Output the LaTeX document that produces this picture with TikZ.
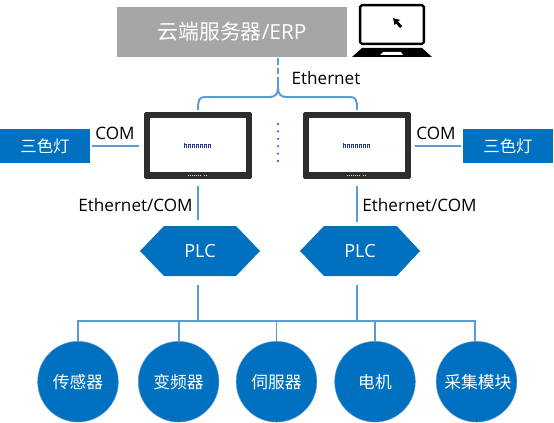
\documentclass[tikz,border=0pt]{standalone}
\usepackage{fontspec}
\setmainfont{Open Sans}
\newfontfamily\cjk{Noto Sans CJK SC}
\definecolor{bluefill}{HTML}{0070C0}
\definecolor{wire}{HTML}{5B9BD5}
\definecolor{cloud}{HTML}{A6A6A6}
\definecolor{bezel}{HTML}{2E2E30}
\definecolor{logo}{HTML}{2A3A8C}
\newcommand{\fpx}[1]{\fontsize{#1}{#1}\selectfont}
\tikzset{
  wireline/.style={draw=wire,line width=1.7pt},
  bluebox/.style={fill=bluefill,text=white,minimum width=90*0.85pt,minimum height=34*0.85pt,inner sep=0pt,font=\cjk\fpx{14}},
  device/.style={circle,fill=bluefill,draw=wire,line width=.4pt,text=white,minimum size=81*0.85pt,inner sep=0pt,font=\cjk\fpx{14.3}},
  plcbox/.style={minimum width=120*0.85pt,minimum height=50*0.85pt,inner sep=0pt,text=white,font=\fpx{15.5}},
  panel/.style={fill=bezel,rounded corners=1pt,minimum width=108*0.85pt,minimum height=67*0.85pt,inner sep=0pt},
  screen/.style={fill=white,minimum width=96*0.85pt,minimum height=54*0.85pt,inner sep=0pt},
  lbl/.style={text=black,inner sep=0pt,font=\fpx{14.6}},
}
\begin{document}
\begin{tikzpicture}[x=0.03cm,y=-0.03cm]
\useasboundingbox (0,0) rectangle (554,423);
% top
\node[fill=cloud,text=white,minimum width=230*0.85pt,minimum height=50*0.85pt,inner sep=0pt,font=\fpx{17.8}] (server) at (232,32) {{\cjk 云端服务器}/ERP};
% laptop
\node[draw=black,line width=2pt,rounded corners=1.5pt,fill=white,minimum width=64*0.85pt,minimum height=39*0.85pt,inner sep=0pt] (laptop) at (392,24.5) {};
\fill[black] (352,57) -- (362,48) -- (422,48) -- (432,57) -- cycle;
\fill[white] (380,55) -- (383,52) -- (401,52) -- (403,55) -- cycle;
\fill[black] (393,18) -- (394.5,25) -- (396,23.5) -- (400,28) -- (402,26) -- (398,21.5) -- (400,20) -- cycle;
% panels
\node[panel] (p1) at (198,145.5) {};
\node[panel] (p2) at (357,145.5) {};
\node[screen] (s1) at (198,145) {};
\node[screen] (s2) at (357,145) {};
\foreach \c in {198,357}{
  \foreach \d in {0,4,...,24}{\draw[logo,line width=.45pt] (\c-14+\d,148) -- ++(0,-3.5) -- ++(2.4,0) -- ++(0,3.5);}
  \fill[logo] (\c-14,142.6) rectangle ++(.8,5.4);
  \foreach \d in {-8,-6,...,4,8,10}{\fill[white!85!black] (\c+\d-2,174.5) rectangle ++(1.2,1.2);}
}
% brace
\coordinate (junc) at (278,88);
\coordinate (jtop) at (278,78);
\draw[wireline,dash pattern=on 5.5pt off 2.5pt] ([yshift=-1pt]server.south -| jtop) -- (jtop);
\draw[wireline] (p1.north) ++(0,-2) coordinate (b1) .. controls (198,100) and (199,97) .. (205,97) -- (270,97) .. controls (275,97) and (278,94) .. (junc);
\draw[wireline] (p2.north) ++(0,-2) coordinate (b2) .. controls (357,100) and (356,97) .. (350,97) -- (286,97) .. controls (281,97) and (278,94) .. (junc);
\draw[wireline] (junc) -- (jtop);
% dots
\foreach \y in {124,131.4,138.8,146.2,153.6,161}{\fill[wire!70!blue] (278,\y) circle (1.3);}
% lamps
\node[bluebox] (lampL) at (45,146) {三色灯};
\node[bluebox] (lampR) at (508,146) {三色灯};
\draw[wireline] (lampL.east)++(2,0) -- ([xshift=-4pt]p1.west |- lampL.east);
\draw[wireline] ([xshift=-2pt]lampR.west) -- ([xshift=3pt]p2.east |- lampR.west);
% PLCs
\fill[bluefill] (140,251) -- (164,226) -- (236,226) -- (260,251) -- (236,276) -- (164,276) -- cycle;
\fill[bluefill] (300,251) -- (324,226) -- (396.7,226) -- (420,251) -- (396.7,276) -- (324,276) -- cycle;
\node[plcbox] (plc1) at (200,251) {PLC};
\node[plcbox] (plc2) at (360,251) {PLC};
\draw[wireline] (198,186) coordinate (d1) -- (198,220) coordinate (d1b);
\draw[wireline] (357,186) coordinate (d2) -- (357,222) coordinate (d2b);
% devices
\node[device] (c1) at (78,381.7) {传感器};
\node[device] (c2) at (178.6,381.7) {变频器};
\node[device] (c3) at (276.5,381.7) {伺服器};
\node[device] (c4) at (375,381.7) {电机};
\node[device,font=\cjk\fpx{14.3}] (c5) at (476.5,381.7) {\hspace{2.5pt}采集模块};
\coordinate (bus) at (278,320.7);
\coordinate (c5in) at (475,341);
\draw[wireline] (c1.north) -- (c1.north |- bus) -- (c5in |- bus) -- (c5in);
\foreach \n in {c2,c3,c4}{\draw[wireline] (\n.north) -- (\n.north |- bus);}
\draw[wireline] (198,285) coordinate (t1) -- (t1 |- bus);
\draw[wireline] (357,285) coordinate (t2) -- (t2 |- bus);
% labels
\node[lbl] (eth) at (326,78) {Ethernet};
\node[lbl] (comL) at (115,133) {COM};
\node[lbl] (comR) at (436,133) {COM};
\node[lbl] (ecL) at (135.5,205) {Ethernet/COM};
\node[lbl] (ecR) at (419.5,205) {Ethernet/COM};
\end{tikzpicture}
\end{document}
